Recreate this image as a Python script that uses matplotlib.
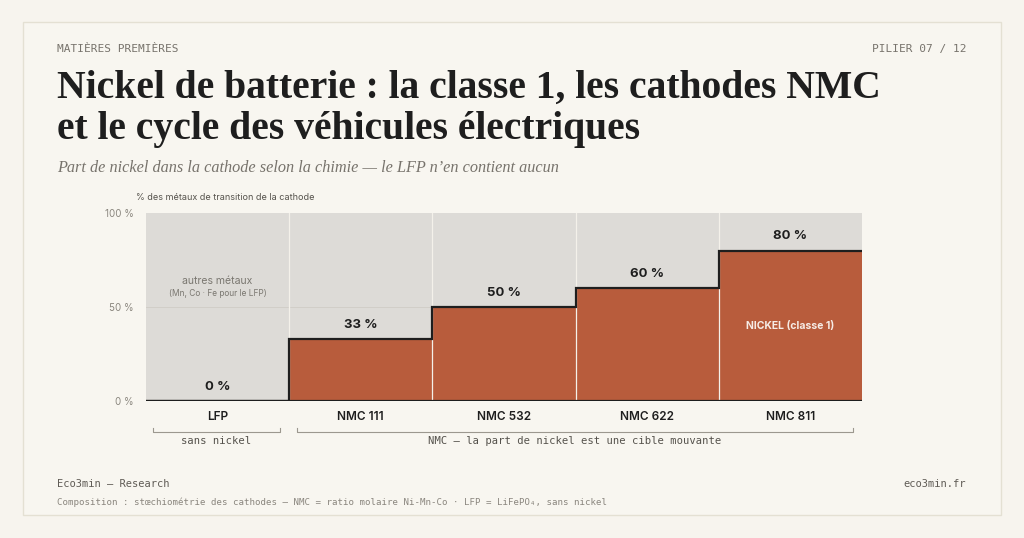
import matplotlib.pyplot as plt
from matplotlib.patches import Rectangle

# data
chemistries = ["LFP", "NMC 111", "NMC 532", "NMC 622", "NMC 811"]
nickel_share = [0, 33, 50, 60, 80]
value_labels = ["0 %", "33 %", "50 %", "60 %", "80 %"]
y_ticks = [0, 50, 100]
y_tick_labels = ["0 %", "50 %", "100 %"]

BG = "#f7f4ee"
PANEL = "#dddbd7"
NICKEL = "#b85c3c"
INK = "#1e1e1e"
GREY = "#77736c"
SANS = ["Inter", "DejaVu Sans"]
SERIF = ["Liberation Serif", "DejaVu Serif"]
MONO = ["DejaVu Sans Mono", "DejaVu Sans"]

W, H = 1024, 538
fig = plt.figure(figsize=(W / 100, H / 100), dpi=100, facecolor=BG)


def fx(px):
    return px / W


def fy(py):
    return 1 - py / H


# card
fig.patches.append(Rectangle((fx(23), fy(515)), fx(978), 493 / H, transform=fig.transFigure,
                             facecolor="#f8f6f0", edgecolor="#e4e0d3", linewidth=1.0, zorder=-10))

# header
fig.text(fx(57), fy(49), "MATIÈRES PREMIÈRES", family=MONO, fontsize=8, color=GREY,
         va="center", ha="left")
fig.text(fx(966), fy(49), "PILIER 07 / 12", family=MONO, fontsize=8, color=GREY,
         va="center", ha="right")
fig.text(fx(57), fy(88), "Nickel de batterie : la classe 1, les cathodes NMC", family=SERIF,
         fontsize=28.5, weight="bold", color=INK, va="center", ha="left")
fig.text(fx(57), fy(129), "et le cycle des véhicules électriques", family=SERIF,
         fontsize=28.5, weight="bold", color=INK, va="center", ha="left")
fig.text(fx(57), fy(168), "Part de nickel dans la cathode selon la chimie — le LFP n’en contient aucun",
         family=SERIF, fontsize=11.7, style="italic", color=GREY, va="center", ha="left")
fig.text(fx(136), fy(198), "% des métaux de transition de la cathode", family=SANS,
         fontsize=6.5, color="#55524c", va="center", ha="left")

# chart
ax = fig.add_axes([fx(146), fy(401), fx(862) - fx(146), (401 - 213) / H])
ax.set_facecolor(PANEL)
x = list(range(len(chemistries)))
ax.bar(x, nickel_share, width=1.0, color=NICKEL, linewidth=0, zorder=2)
edges = [i - 0.5 for i in x] + [x[-1] + 0.5]
ax.stairs(nickel_share, edges, baseline=None, color=INK, linewidth=1.6, zorder=4)
ax.axhline(0, color=INK, linewidth=1.6, zorder=4)
for e in edges[1:-1]:
    ax.axvline(e, color="#f4f1ea", linewidth=0.9, zorder=3)
ax.axhline(50, color="#cfccc6", linewidth=0.6, zorder=1)

ax.set_xlim(-0.5, len(chemistries) - 0.5)
ax.set_ylim(0, 100)
ax.set_yticks(y_ticks)
ax.set_yticklabels(y_tick_labels, family=SANS, fontsize=7, color="#8a867e")
ax.set_xticks(x)
ax.set_xticklabels(chemistries, family=SANS, fontsize=8.5, color=INK, weight="semibold")
ax.tick_params(length=0)
ax.tick_params(axis="x", pad=7)
ax.tick_params(axis="y", pad=9)
for s in ax.spines.values():
    s.set_visible(False)

for xi, v, lab in zip(x, nickel_share, value_labels):
    ax.annotate(lab, (xi, v), xytext=(0, 6), textcoords="offset points", ha="center",
                va="bottom", family=SANS, fontsize=9.5, weight="bold", color=INK, zorder=5)

ax.text(0, 64, "autres métaux", family=SANS, fontsize=7.5, color="#7a7770", ha="center", va="center")
ax.text(0, 57, "(Mn, Co · Fe pour le LFP)", family=SANS, fontsize=6, color="#7a7770",
        ha="center", va="center")
ax.text(4, 40, "NICKEL (classe 1)", family=SANS, fontsize=7.5, weight="bold", color="#f6ece6",
        ha="center", va="center")

# brackets under categories
def bracket(x0, x1, text):
    y0, y1 = fy(428), fy(432)
    fig.lines.append(plt.Line2D([fx(x0), fx(x0), fx(x1), fx(x1)], [y0, y1, y1, y0],
                                transform=fig.transFigure, color="#9c988f", linewidth=0.8))
    fig.text(fx((x0 + x1) / 2), fy(441), text, family=MONO, fontsize=7.6, color="#55524c",
             ha="center", va="center")


bracket(153, 280, "sans nickel")
bracket(297, 853, "NMC — la part de nickel est une cible mouvante")

# footer
fig.text(fx(57), fy(484), "Eco3min — Research", family=MONO, fontsize=7.5, color="#5f5b55",
         va="center", ha="left")
fig.text(fx(966), fy(484), "eco3min.fr", family=MONO, fontsize=7.5, color="#5f5b55",
         va="center", ha="right")
fig.text(fx(57), fy(502),
         "Composition : stœchiométrie des cathodes — NMC = ratio molaire Ni-Mn-Co · LFP = LiFePO₄, sans nickel",
         family=MONO, fontsize=6.6, color="#8a867e", va="center", ha="left")

fig.savefig("out.png", dpi=100, facecolor=BG)
